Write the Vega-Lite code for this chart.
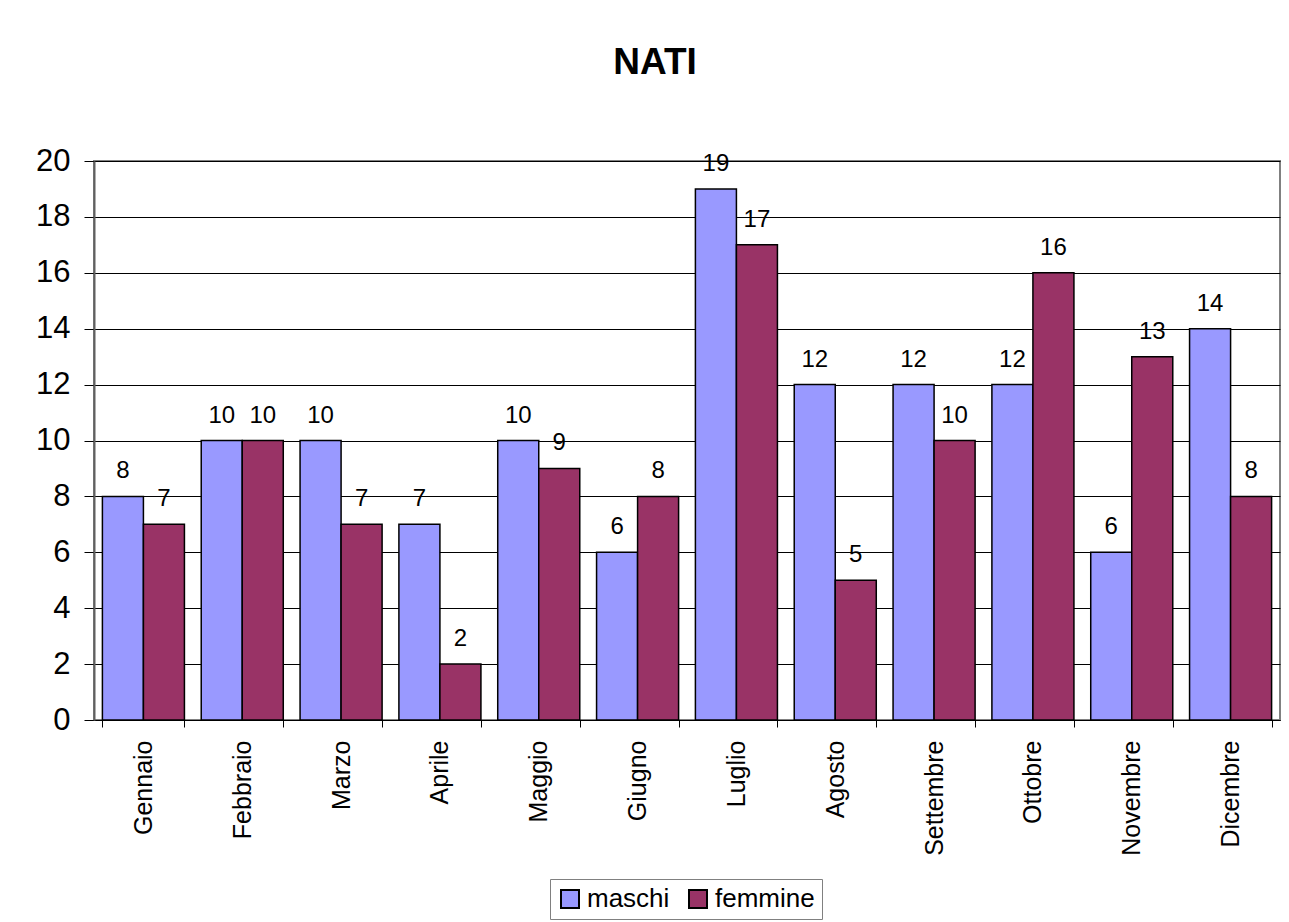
{
  "$schema": "https://vega.github.io/schema/vega-lite/v6.json",
  "width": 1186,
  "height": 559,
  "autosize": {"type": "none"},
  "padding": {"left": 94, "top": 161, "right": 9, "bottom": 202},
  "background": "white",
  "title": {"text": "NATI", "font": "Liberation Sans", "fontSize": 37, "fontWeight": "bold", "color": "black", "offset": 63, "dx": -32, "anchor": "middle"},
  "config": {
    "font": "Liberation Sans",
    "view": {"stroke": "#808080", "strokeWidth": 2}
  },
  "data": {"values": [
    {"mese": "Gennaio", "sesso": "maschi", "n": 8},
    {"mese": "Gennaio", "sesso": "femmine", "n": 7},
    {"mese": "Febbraio", "sesso": "maschi", "n": 10},
    {"mese": "Febbraio", "sesso": "femmine", "n": 10},
    {"mese": "Marzo", "sesso": "maschi", "n": 10},
    {"mese": "Marzo", "sesso": "femmine", "n": 7},
    {"mese": "Aprile", "sesso": "maschi", "n": 7},
    {"mese": "Aprile", "sesso": "femmine", "n": 2},
    {"mese": "Maggio", "sesso": "maschi", "n": 10},
    {"mese": "Maggio", "sesso": "femmine", "n": 9},
    {"mese": "Giugno", "sesso": "maschi", "n": 6},
    {"mese": "Giugno", "sesso": "femmine", "n": 8},
    {"mese": "Luglio", "sesso": "maschi", "n": 19},
    {"mese": "Luglio", "sesso": "femmine", "n": 17},
    {"mese": "Agosto", "sesso": "maschi", "n": 12},
    {"mese": "Agosto", "sesso": "femmine", "n": 5},
    {"mese": "Settembre", "sesso": "maschi", "n": 12},
    {"mese": "Settembre", "sesso": "femmine", "n": 10},
    {"mese": "Ottobre", "sesso": "maschi", "n": 12},
    {"mese": "Ottobre", "sesso": "femmine", "n": 16},
    {"mese": "Novembre", "sesso": "maschi", "n": 6},
    {"mese": "Novembre", "sesso": "femmine", "n": 13},
    {"mese": "Dicembre", "sesso": "maschi", "n": 14},
    {"mese": "Dicembre", "sesso": "femmine", "n": 8}
  ]},
  "encoding": {
    "x": {
      "field": "mese", "type": "nominal", "title": null,
      "sort": ["Gennaio","Febbraio","Marzo","Aprile","Maggio","Giugno","Luglio","Agosto","Settembre","Ottobre","Novembre","Dicembre"],
      "scale": {"paddingInner": 0.17, "paddingOuter": 0.085},
      "axis": {"labelAngle": -90, "labelAlign": "right", "labelBaseline": "middle", "labelFontSize": 25, "labelColor": "black", "labelPadding": 13, "tickBand": "extent", "tickSize": 7, "tickColor": "black", "domainColor": "black", "domainWidth": 1, "grid": false}
    },
    "xOffset": {"field": "sesso", "type": "nominal", "sort": ["maschi", "femmine"], "scale": {"paddingInner": 0, "paddingOuter": 0}},
    "y": {
      "field": "n", "type": "quantitative", "title": null,
      "scale": {"domain": [0, 20], "nice": false},
      "axis": {"values": [0,2,4,6,8,10,12,14,16,18,20], "labelFontSize": 31, "labelColor": "black", "labelPadding": 14, "tickSize": 10, "tickColor": "black", "domainColor": "#606060", "domainWidth": 2, "gridColor": "black", "gridOpacity": 1, "gridWidth": 1}
    }
  },
  "layer": [
    {
      "mark": {"type": "bar", "stroke": "black", "strokeWidth": 1.5},
      "encoding": {
        "color": {
          "field": "sesso", "type": "nominal", "title": null,
          "sort": ["maschi", "femmine"],
          "scale": {"domain": ["maschi", "femmine"], "range": ["#9999FF", "#993366"]},
          "legend": {"orient": "none", "legendX": 456, "legendY": 718, "direction": "horizontal", "symbolType": "square", "symbolSize": 324, "symbolStrokeColor": "black", "symbolStrokeWidth": 2, "symbolOpacity": 1, "labelFontSize": 26, "labelColor": "black", "labelOffset": 4, "columnPadding": 15, "strokeColor": "#808080", "padding": 7, "fillColor": "white"}
        }
      }
    },
    {
      "mark": {"type": "text", "baseline": "alphabetic", "dy": -18, "fontSize": 24, "color": "black"},
      "encoding": {"text": {"field": "n", "type": "quantitative"}}
    }
  ]
}
